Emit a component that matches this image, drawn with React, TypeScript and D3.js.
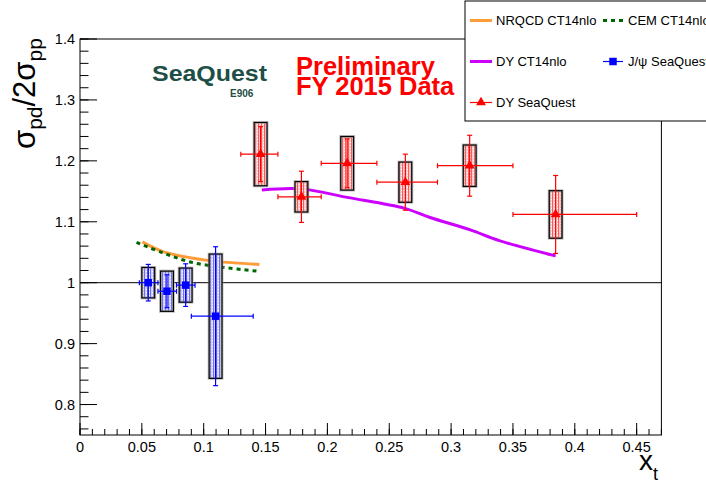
import React from 'react';
import * as d3 from 'd3';

// DY SeaQuest (red triangles)
const dyX = [0.146, 0.179, 0.216, 0.263, 0.315, 0.3845];
const dyY = [1.211, 1.141, 1.196, 1.165, 1.192, 1.112];
const dyXLo = [0.130, 0.160, 0.195, 0.240, 0.289, 0.350];
const dyXHi = [0.160, 0.195, 0.240, 0.289, 0.350, 0.450];
const dyStat = [0.045, 0.042, 0.040, 0.046, 0.050, 0.064];
const dySys = [0.052, 0.025, 0.044, 0.033, 0.034, 0.039];

// J/psi SeaQuest (blue squares)
const jpX = [0.0552, 0.0703, 0.0854, 0.1096];
const jpY = [1.0, 0.986, 0.996, 0.945];
const jpXLo = [0.048, 0.063, 0.078, 0.090];
const jpXHi = [0.063, 0.078, 0.093, 0.140];
const jpStat = [0.030, 0.027, 0.035, 0.114];
const jpSys = [0.025, 0.033, 0.028, 0.102];

// theory curves
const nrqcdX = [0.0504, 0.067, 0.089, 0.110, 0.145];
const nrqcdY = [1.067, 1.051, 1.041, 1.035, 1.030];
const cemX = [0.0457, 0.067, 0.089, 0.116, 0.1435];
const cemY = [1.066, 1.049, 1.034, 1.025, 1.019];
const dyThX = [0.147, 0.1785, 0.216, 0.2625, 0.283, 0.315, 0.339, 0.3845];
const dyThY = [1.152, 1.154, 1.140, 1.122, 1.107, 1.087, 1.069, 1.044];

const xTicks = [0, 0.05, 0.1, 0.15, 0.2, 0.25, 0.3, 0.35, 0.4, 0.45];
const xTickLabels = ['0', '0.05', '0.1', '0.15', '0.2', '0.25', '0.3', '0.35', '0.4', '0.45'];
const yTicks = [0.8, 0.9, 1.0, 1.1, 1.2, 1.3, 1.4];
const yTickLabels = ['0.8', '0.9', '1', '1.1', '1.2', '1.3', '1.4'];

const FONT = '"Liberation Sans", Arial, Helvetica, sans-serif';
const RED = '#ff0000';
const BLUE = '#0000ff';
const ORANGE = '#ff9c3a';
const GREEN = '#006600';
const MAGENTA = '#cc00ff';

const App = () => {
  const left = 80, right = 661.4, top = 39, bottom = 435;
  const x = d3.scaleLinear().domain([0, 0.47]).range([left, right]);
  const y = d3.scaleLinear().domain([0.75, 1.4]).range([bottom, top]);

  const curve = (xs: number[], ys: number[]) =>
    d3.line<number>()
      .x((_, i) => x(xs[i]))
      .y((_, i) => y(ys[i]))
      .curve(d3.curveCatmullRom)(xs.map((_, i) => i)) || '';

  const tri = d3.symbol(d3.symbolTriangle, 42)() || '';
  const sq = d3.symbol(d3.symbolSquare, 56)() || '';

  const xMinor = d3.range(0, 0.4701, 0.01);
  const yMinor = d3.range(0.76, 1.401, 0.02);
  const boxHalf = 0.0052;

  const points = (xs: number[], ys: number[], lo: number[], hi: number[], stat: number[], sys: number[],
    color: string, pat: string, marker: string) =>
    xs.map((xv, i) => (
      <g key={i}>
        <rect x={x(xv - boxHalf)} y={y(ys[i] + sys[i])} width={x(xv + boxHalf) - x(xv - boxHalf)}
          height={y(ys[i] - sys[i]) - y(ys[i] + sys[i])} fill={`url(#${pat})`} stroke="#999" strokeWidth={3} strokeOpacity={0.6} />
        <rect x={x(xv - boxHalf)} y={y(ys[i] + sys[i])} width={x(xv + boxHalf) - x(xv - boxHalf)}
          height={y(ys[i] - sys[i]) - y(ys[i] + sys[i])} fill="none" stroke="#000" strokeWidth={1.2} />
        <g stroke={color} strokeWidth={1.2}>
          <line x1={x(lo[i])} x2={x(hi[i])} y1={y(ys[i])} y2={y(ys[i])} />
          <line x1={x(lo[i])} x2={x(lo[i])} y1={y(ys[i]) - 2.5} y2={y(ys[i]) + 2.5} />
          <line x1={x(hi[i])} x2={x(hi[i])} y1={y(ys[i]) - 2.5} y2={y(ys[i]) + 2.5} />
          <line x1={x(xv)} x2={x(xv)} y1={y(ys[i] + stat[i])} y2={y(ys[i] - stat[i])} />
          <line x1={x(xv) - 2.5} x2={x(xv) + 2.5} y1={y(ys[i] + stat[i])} y2={y(ys[i] + stat[i])} />
          <line x1={x(xv) - 2.5} x2={x(xv) + 2.5} y1={y(ys[i] - stat[i])} y2={y(ys[i] - stat[i])} />
        </g>
        <path d={marker} transform={`translate(${x(xv)},${y(ys[i])})`} fill={color} />
      </g>
    ));

  return (
    <svg width={706} height={483} style={{ position: 'fixed', left: 0, top: 0, background: '#fff' }} fontFamily={FONT}>
      <defs>
        <pattern id="redPat" width={3} height={3} patternUnits="userSpaceOnUse">
          <rect width={3} height={3} fill="#ffc8c8" />
          <rect width={1} height={3} fill="#ff5a5a" />
          <rect x={2} y={1} width={1} height={1} fill="#ffffff" />
        </pattern>
        <pattern id="bluePat" width={3} height={3} patternUnits="userSpaceOnUse">
          <rect width={3} height={3} fill="#d0d0fa" />
          <rect width={1} height={3} fill="#7070f0" />
          <rect x={2} y={1} width={1} height={1} fill="#ffffff" />
        </pattern>
      </defs>

      {/* frame */}
      <rect x={left} y={top} width={right - left} height={bottom - top} fill="none" stroke="#000" strokeWidth={1} />

      {/* x axis ticks */}
      <g stroke="#000" strokeWidth={1}>
        {xMinor.map((v, i) => (
          <line key={'xm' + i} x1={x(v)} x2={x(v)} y1={bottom} y2={bottom - 6} />
        ))}
        {xTicks.map((v, i) => (
          <line key={'xM' + i} x1={x(v)} x2={x(v)} y1={bottom} y2={bottom - 12} />
        ))}
        {yMinor.map((v, i) => (
          <line key={'ym' + i} x1={left} x2={left + 8.5} y1={y(v)} y2={y(v)} />
        ))}
        {yTicks.map((v, i) => (
          <line key={'yM' + i} x1={left} x2={left + 17} y1={y(v)} y2={y(v)} />
        ))}
      </g>
      {xTicks.map((v, i) => (
        <text key={'xl' + i} x={x(v)} y={452} fontSize={14.5} textAnchor="middle">{xTickLabels[i]}</text>
      ))}
      {yTicks.map((v, i) => (
        <text key={'yl' + i} x={75} y={y(v) + 5} fontSize={14.5} textAnchor="end">{yTickLabels[i]}</text>
      ))}

      {/* axis titles */}
      <text transform="translate(35,149) rotate(-90)" fontSize={31}>
        σ<tspan fontSize={21} dy={7}>pd</tspan><tspan dy={-7}>/2σ</tspan><tspan fontSize={21} dy={7}>pp</tspan>
      </text>
      <text x={639} y={470} fontSize={28}>x<tspan fontSize={18} dy={10}>t</tspan></text>

      {/* line at 1 */}
      <line x1={left} x2={right} y1={y(1)} y2={y(1)} stroke="#000" strokeWidth={1} />

      {/* theory */}
      <path d={curve(nrqcdX, nrqcdY)} fill="none" stroke={ORANGE} strokeWidth={3} />
      <path d={curve(cemX, cemY)} fill="none" stroke={GREEN} strokeWidth={3} strokeDasharray="4,4" />
      <path d={curve(dyThX, dyThY)} fill="none" stroke={MAGENTA} strokeWidth={3} />

      {/* data */}
      {points(jpX, jpY, jpXLo, jpXHi, jpStat, jpSys, BLUE, 'bluePat', sq)}
      {points(dyX, dyY, dyXLo, dyXHi, dyStat, dySys, RED, 'redPat', tri)}

      {/* logo + preliminary */}
      <text x={152} y={81} fontSize={22} fontWeight={900} fill="#1e4f47" textLength={115} lengthAdjust="spacingAndGlyphs">SeaQuest</text>
      <text x={230} y={97} fontSize={10} fontWeight={700} fill="#1e4f47">E906</text>
      <text x={296} y={75} fontSize={25.5} fontWeight={700} fill={RED}>Preliminary</text>
      <text x={296} y={95} fontSize={25.5} fontWeight={700} fill={RED}>FY 2015 Data</text>

      {/* legend */}
      <rect x={465} y={1} width={250} height={120} fill="#fff" stroke="#000" strokeWidth={1} />
      <g fontSize={13}>
        <line x1={470} x2={492} y1={20.5} y2={20.5} stroke={ORANGE} strokeWidth={3} />
        <text x={496} y={25}>NRQCD CT14nlo</text>
        <line x1={603} x2={623} y1={20.5} y2={20.5} stroke={GREEN} strokeWidth={3} strokeDasharray="4,4" />
        <text x={628} y={25}>CEM CT14nlo</text>
        <line x1={470} x2={492} y1={61.5} y2={61.5} stroke={MAGENTA} strokeWidth={3} />
        <text x={496} y={66}>DY CT14nlo</text>
        <line x1={603} x2={623} y1={61.5} y2={61.5} stroke={BLUE} strokeWidth={1.2} />
        <path d={sq} transform="translate(613,61.5)" fill={BLUE} />
        <text x={628} y={66}>J/ψ SeaQuest</text>
        <line x1={470} x2={492} y1={102.5} y2={102.5} stroke={RED} strokeWidth={1.2} />
        <path d={tri} transform="translate(481,102.5)" fill={RED} />
        <text x={496} y={107}>DY SeaQuest</text>
      </g>
    </svg>
  );
};

export default App;
